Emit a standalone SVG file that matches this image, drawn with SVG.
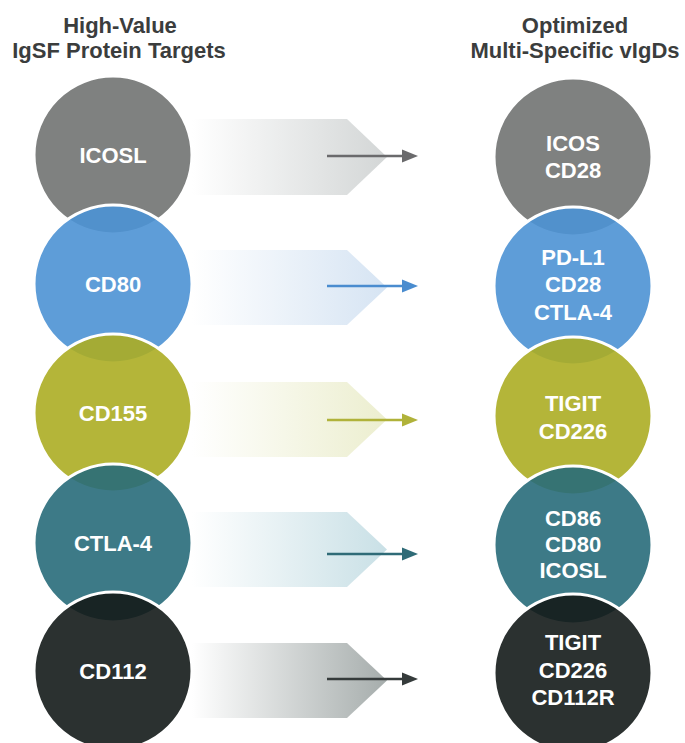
<svg xmlns="http://www.w3.org/2000/svg" width="685" height="743" viewBox="0 0 685 743">
<style>
.hdr{font-family:"Liberation Sans",Arial,sans-serif;font-weight:bold;font-size:22px;fill:#3b3d3d;text-anchor:middle}
.lbl{font-family:"Liberation Sans",Arial,sans-serif;font-weight:bold;font-size:22px;fill:#ffffff;text-anchor:middle}
.c{stroke:#ffffff;stroke-width:3;fill-opacity:0.9}
</style>
<defs>
<linearGradient id="g1" x1="0" x2="1" y1="0" y2="0"><stop offset="0" stop-color="#ffffff"/><stop offset="1" stop-color="#d3d6d6"/></linearGradient>
<linearGradient id="g2" x1="0" x2="1" y1="0" y2="0"><stop offset="0" stop-color="#ffffff"/><stop offset="1" stop-color="#d6e4f3"/></linearGradient>
<linearGradient id="g3" x1="0" x2="1" y1="0" y2="0"><stop offset="0" stop-color="#ffffff"/><stop offset="1" stop-color="#eceecf"/></linearGradient>
<linearGradient id="g4" x1="0" x2="1" y1="0" y2="0"><stop offset="0" stop-color="#ffffff"/><stop offset="1" stop-color="#c9e0e6"/></linearGradient>
<linearGradient id="g5" x1="0" x2="1" y1="0" y2="0"><stop offset="0" stop-color="#ffffff"/><stop offset="1" stop-color="#a6adac"/></linearGradient>
</defs>
<rect width="685" height="743" fill="#ffffff"/>
<g id="headers">
<text class="hdr" x="120" y="33">High-Value</text>
<text class="hdr" x="119" y="58">IgSF Protein Targets</text>
<text class="hdr" x="575" y="33">Optimized</text>
<text class="hdr" x="575" y="58">Multi-Specific vIgDs</text>
</g>
<g id="connectors">
<polygon points="192,119 347,119 387,157 347,195 192,195" fill="url(#g1)"/>
<polygon points="192,250 347,250 387,287.5 347,325 192,325" fill="url(#g2)"/>
<polygon points="192,382 347,382 387,419.5 347,457 192,457" fill="url(#g3)"/>
<polygon points="192,512 347,512 387,549.5 347,587 192,587" fill="url(#g4)"/>
<polygon points="192,643 347,643 387,680.5 347,718 192,718" fill="url(#g5)"/>
<line x1="327" y1="156" x2="404" y2="156" stroke="#6a6a6c" stroke-width="2.5"/>
<polygon points="402,149.5 418,156 402,162.5" fill="#6a6a6c"/>
<line x1="327" y1="286" x2="404" y2="286" stroke="#4a8ccf" stroke-width="2.5"/>
<polygon points="402,279.5 418,286 402,292.5" fill="#4a8ccf"/>
<line x1="327" y1="420" x2="404" y2="420" stroke="#b0b23a" stroke-width="2.5"/>
<polygon points="402,413.5 418,420 402,426.5" fill="#b0b23a"/>
<line x1="327" y1="554" x2="404" y2="554" stroke="#2f6b77" stroke-width="2.5"/>
<polygon points="402,547.5 418,554 402,560.5" fill="#2f6b77"/>
<line x1="327" y1="679" x2="404" y2="679" stroke="#353b3b" stroke-width="2.5"/>
<polygon points="402,672.5 418,679 402,685.5" fill="#353b3b"/>
</g>
<g id="n-icosl"><circle class="c" cx="113" cy="155" r="79" fill="#717372"/><text class="lbl" x="113" y="163">ICOSL</text></g>
<g id="n-cd80"><circle class="c" cx="113" cy="284" r="79" fill="#4c92d4"/><text class="lbl" x="113" y="292">CD80</text></g>
<g id="n-cd155"><circle class="c" cx="113" cy="413" r="79" fill="#acad24"/><text class="lbl" x="113" y="421">CD155</text></g>
<g id="n-ctla4"><circle class="c" cx="113" cy="543" r="79" fill="#286b7a"/><text class="lbl" x="113" y="551">CTLA-4</text></g>
<g id="n-cd112"><circle class="c" cx="113" cy="671" r="79" fill="#141b1a"/><text class="lbl" x="113" y="679">CD112</text></g>
<g id="n-icos-cd28"><circle class="c" cx="573" cy="157" r="79" fill="#717372"/><text class="lbl" x="573" y="151">ICOS</text><text class="lbl" x="573" y="178">CD28</text></g>
<g id="n-pdl1-cd28-ctla4"><circle class="c" cx="573" cy="286" r="79" fill="#4c92d4"/><text class="lbl" x="573" y="265">PD-L1</text><text class="lbl" x="573" y="292">CD28</text><text class="lbl" x="573" y="320">CTLA-4</text></g>
<g id="n-tigit-cd226"><circle class="c" cx="573" cy="416" r="79" fill="#acad24"/><text class="lbl" x="573" y="411">TIGIT</text><text class="lbl" x="573" y="439">CD226</text></g>
<g id="n-cd86-cd80-icosl"><circle class="c" cx="573" cy="545" r="79" fill="#286b7a"/><text class="lbl" x="573" y="526">CD86</text><text class="lbl" x="573" y="552">CD80</text><text class="lbl" x="573" y="578">ICOSL</text></g>
<g id="n-tigit-cd226-cd112r"><circle class="c" cx="573" cy="673" r="79" fill="#141b1a"/><text class="lbl" x="573" y="650">TIGIT</text><text class="lbl" x="573" y="678">CD226</text><text class="lbl" x="573" y="705">CD112R</text></g>
</svg>
